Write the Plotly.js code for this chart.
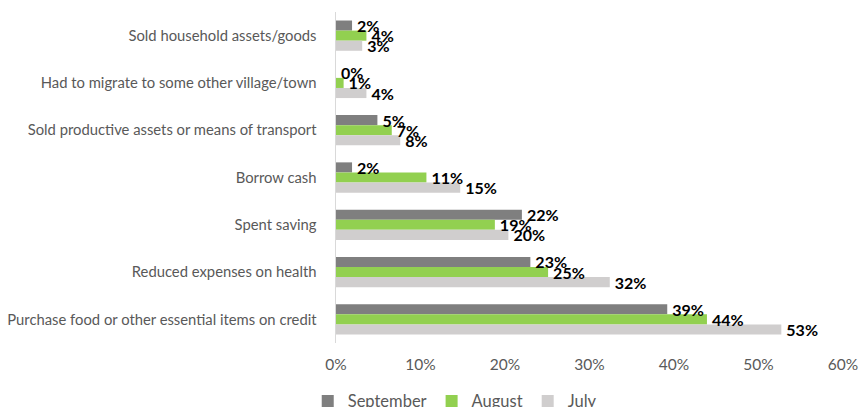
<!DOCTYPE html>
<html>
<head>
<meta charset="utf-8">
<script src="https://cdn.plot.ly/plotly-3.0.1.min.js"></script>
<style>html,body{margin:0;padding:0;background:#fff;}#chart{width:862px;height:407px;}</style>
</head>
<body>
<div id="chart"></div>
<script>
var categories = [
  "Sold household assets/goods",
  "Had to migrate to some other village/town",
  "Sold productive assets or means of transport",
  "Borrow cash",
  "Spent saving",
  "Reduced expenses on health",
  "Purchase food or other essential items on credit"
];
var september = [1.9, 0.0, 4.9, 1.9, 22.0, 23.0, 39.2];
var august    = [3.6, 0.9, 6.6, 10.7, 18.8, 25.1, 43.9];
var july      = [3.1, 3.6, 7.6, 14.7, 20.4, 32.4, 52.7];
var xTickVals = [0, 10, 20, 30, 40, 50, 60];
var xTickText = ["0%", "10%", "20%", "30%", "40%", "50%", "60%"];

var font = "Lato, 'Open Sans', sans-serif";
function bars(name, vals, color) {
  return {
    type: "bar", orientation: "h", name: name, offsetgroup: name,
    y: categories, x: vals,
    marker: {color: color},
    hoverinfo: "skip"
  };
}
function labels(name, vals) {
  return {
    type: "bar", orientation: "h", name: name + " labels", offsetgroup: name,
    y: categories, x: vals, showlegend: false,
    marker: {color: "rgba(0,0,0,0)"},
    text: vals.map(function(v){ return "\u2009" + Math.round(v) + "%"; }),
    textposition: "outside",
    constraintext: "none",
    cliponaxis: false,
    textfont: {family: font, size: 16, color: "#000", weight: "bold"},
    hoverinfo: "skip"
  };
}
var data = [
  bars("September", september, "#7f7f7f"),
  bars("August", august, "#92d050"),
  bars("July", july, "#d0cece"),
  labels("September", september),
  labels("August", august),
  labels("July", july)
];
var layout = {
  width: 862, height: 407,
  margin: {l: 336, r: 19, t: 12, b: 64},
  paper_bgcolor: "#fff", plot_bgcolor: "#fff",
  barmode: "group", bargap: 0.36, bargroupgap: 0,
  font: {family: font, color: "#595959"},
  xaxis: {
    range: [0, 60], tickvals: xTickVals, ticktext: xTickText,
    showgrid: false, zeroline: false, showline: false, ticks: "",
    tickfont: {size: 15.5, color: "#595959", family: font},
    ticklabelstandoff: 10, fixedrange: true
  },
  yaxis: {
    type: "category", autorange: "reversed",
    showgrid: false, zeroline: false,
    showline: true, linecolor: "#d9d9d9", linewidth: 1.5,
    ticks: "", tickfont: {size: 14.8, color: "#595959", family: font},
    ticklabelstandoff: 15, fixedrange: true
  },
  showlegend: true,
  legend: {
    orientation: "h", xref: "container", yref: "container",
    x: 0.357, xanchor: "left", y: 0.014, yanchor: "middle",
    font: {size: 16.5, color: "#595959", family: font},
    itemclick: false, itemdoubleclick: false
  }
};
Plotly.newPlot("chart", data, layout, {displayModeBar: false, staticPlot: true});
</script>
</body>
</html>
